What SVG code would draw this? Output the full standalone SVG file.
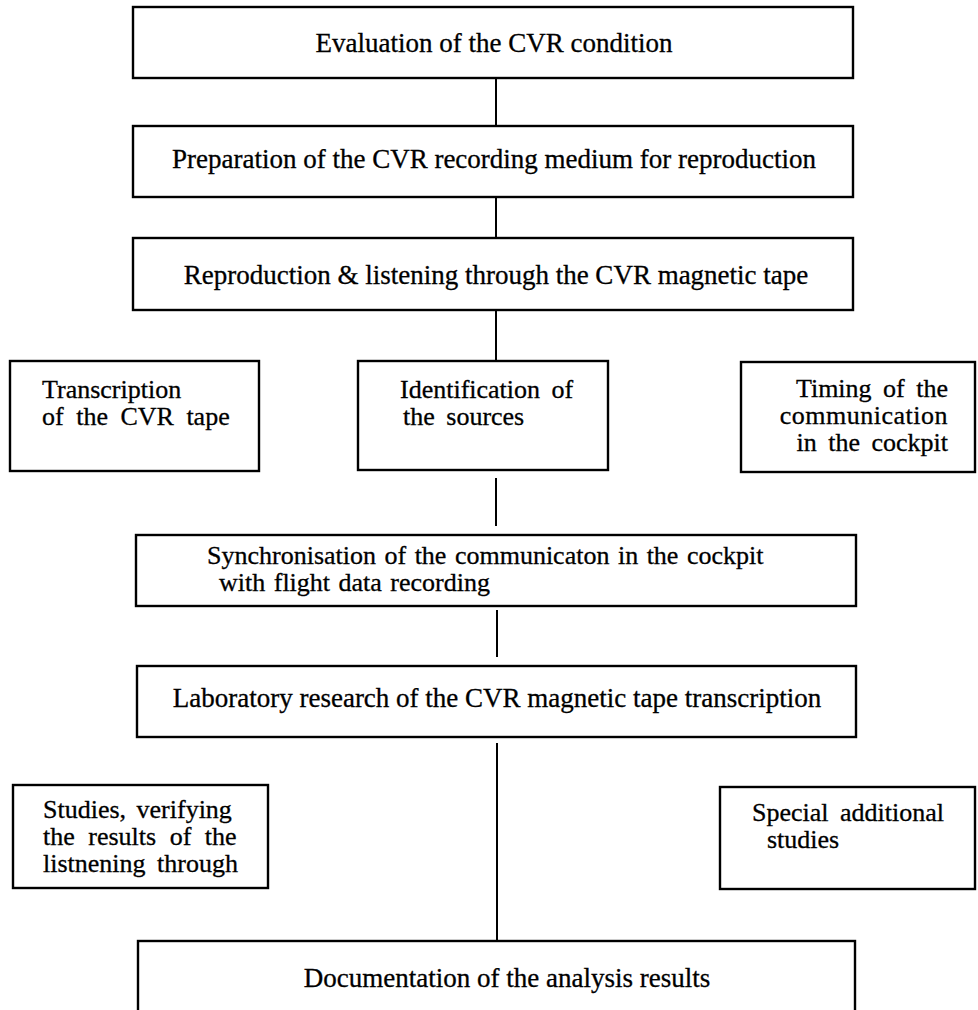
<svg xmlns="http://www.w3.org/2000/svg" width="978" height="1010" viewBox="0 0 978 1010">
<style>
.box{fill:#fff;stroke:#000;stroke-width:2.4}
.t{font-family:"Liberation Serif","Times New Roman",serif;font-size:27px;fill:#000;stroke:#000;stroke-width:0.3}
.s{font-size:26px}
.m{text-anchor:middle}
.e{text-anchor:end}
.c{stroke:#000;stroke-width:2;fill:none}
</style>
<rect width="978" height="1010" fill="#fff"/>
<g id="connectors">
<line class="c" x1="496" y1="78" x2="496" y2="126"/>
<line class="c" x1="496" y1="197" x2="496" y2="238"/>
<line class="c" x1="496" y1="310" x2="496" y2="361"/>
<line class="c" x1="496" y1="478" x2="496" y2="526"/>
<line class="c" x1="497" y1="610" x2="497" y2="657"/>
<line class="c" x1="497" y1="743" x2="497" y2="940"/>
</g>
<g id="n1"><rect class="box" x="133" y="7" width="720" height="71"/><text class="t m" x="494" y="52">Evaluation of the CVR condition</text></g>
<g id="n2"><rect class="box" x="133" y="126" width="720" height="71"/><text class="t m" x="494" y="168">Preparation of the CVR recording medium for reproduction</text></g>
<g id="n3"><rect class="box" x="133" y="238" width="720" height="72"/><text class="t m" x="496" y="284">Reproduction &amp; listening through the CVR magnetic tape</text></g>
<g id="n4"><rect class="box" x="10" y="361" width="249" height="110"/><text class="t s" x="42" y="398" word-spacing="1">Transcription</text><text class="t s" x="42" y="425" word-spacing="6">of the CVR tape</text></g>
<g id="n5"><rect class="box" x="358" y="361" width="250" height="109"/><text class="t s" x="400" y="398" word-spacing="5">Identification of</text><text class="t s" x="403" y="425" word-spacing="5">the sources</text></g>
<g id="n6"><rect class="box" x="741" y="362" width="234" height="110"/><text class="t s e" x="948" y="397" word-spacing="5">Timing of the</text><text class="t s e" x="948" y="424" letter-spacing="0.5">communication</text><text class="t s e" x="948" y="451" word-spacing="5">in the cockpit</text></g>
<g id="n7"><rect class="box" x="136" y="535" width="720" height="71"/><text class="t s" x="207" y="564" word-spacing="2">Synchronisation of the communicaton in the cockpit</text><text class="t s" x="219" y="591" word-spacing="2">with flight data recording</text></g>
<g id="n8"><rect class="box" x="137" y="666" width="719" height="71"/><text class="t m" x="497" y="707">Laboratory research of the CVR magnetic tape transcription</text></g>
<g id="n9"><rect class="box" x="13" y="785" width="255" height="103"/><text class="t s" x="43" y="818" word-spacing="4">Studies, verifying</text><text class="t s" x="43" y="845" word-spacing="7">the results of the</text><text class="t s" x="43" y="872" word-spacing="5">listnening through</text></g>
<g id="n10"><rect class="box" x="720" y="787" width="255" height="102"/><text class="t s" x="752" y="821" word-spacing="5">Special additional</text><text class="t s" x="767" y="848">studies</text></g>
<g id="n11"><rect class="box" x="138" y="941" width="717" height="80"/><text class="t m" x="507" y="987">Documentation of the analysis results</text></g>
</svg>
